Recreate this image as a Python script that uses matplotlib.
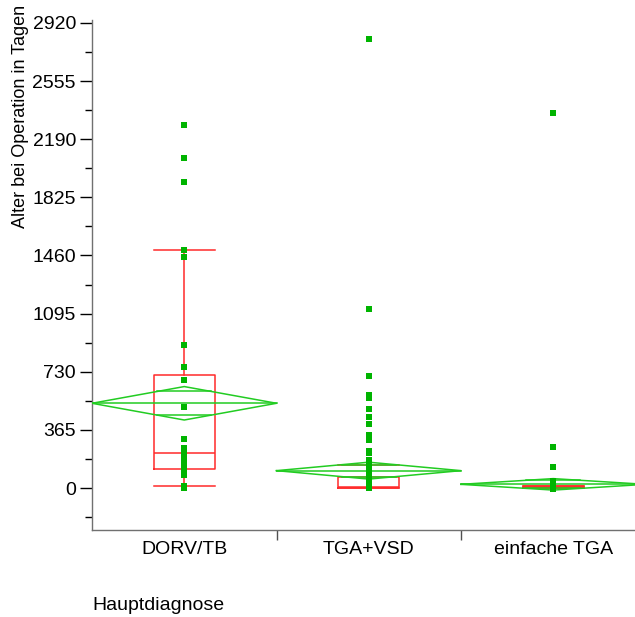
import numpy as np
import matplotlib
matplotlib.use("Agg")
import matplotlib.pyplot as plt
from matplotlib.ticker import FixedLocator

# ---- data ----
categories = ["DORV/TB", "TGA+VSD", "einfache TGA"]

dorv_tb = [2278, 2073, 1922, 1495, 1449, 896, 758, 678, 511, 308,
           250, 240, 228, 216, 204, 192, 180, 168, 156, 144, 132, 120, 110,
           100, 90, 80, 12, 0]
tga_vsd = [2820, 1124, 702, 587, 567, 496, 444, 400, 330, 315, 300, 230, 220,
           178, 165, 150, 144, 135, 125, 115, 105, 95, 85, 75, 65, 55, 45, 35,
           25, 20, 15, 10, 8, 5, 3, 0, -3]
einfache_tga = [2355, 260, 130, 42, 30, 20, 12, 7, 3, 0, -5]
groups = [dorv_tb, tga_vsd, einfache_tga]

# box plot statistics
q1 = [119, 2, -2]
medians = [218, 5, 5]
q3 = [712, 66, 14]
whisker_low = [12, 0, -2]
whisker_high = [1495, 144, 14]

# mean diamonds: means and 95% CI half widths
means = [532, 109, 23]
ci_half = [105, 53, 36]

y_ticks = [0, 365, 730, 1095, 1460, 1825, 2190, 2555, 2920]

# ---- figure ----
plt.rcParams["font.family"] = ["Liberation Sans", "DejaVu Sans"]
fig = plt.figure(figsize=(6.35, 6.17), dpi=100)
ax = fig.add_axes([92/635, 87/617, 553.5/635, 510/617])

red = "#ff2a2a"
green_line = "#22cc22"
green_pt = "#00b400"

stats = []
for i in range(len(categories)):
    stats.append(dict(med=medians[i], q1=q1[i], q3=q3[i],
                      whislo=whisker_low[i], whishi=whisker_high[i], label=categories[i]))
ax.bxp(stats, positions=range(len(categories)), widths=0.33, capwidths=0.33,
       showfliers=False,
       boxprops=dict(color=red, linewidth=1.1),
       medianprops=dict(color=red, linewidth=1.1),
       whiskerprops=dict(color=red, linewidth=1.1),
       capprops=dict(color=red, linewidth=1.1),
       zorder=2)

k = np.sqrt(2) / 2
for i, (m, h) in enumerate(zip(means, ci_half)):
    xs = [i - 0.5, i, i + 0.5, i, i - 0.5]
    ys = [m, m + h, m, m - h, m]
    ax.plot(xs, ys, color=green_line, lw=1.1, zorder=3)
    ax.plot([i - 0.5, i + 0.5], [m, m], color=green_line, lw=1.1, zorder=3)
    hw = 0.5 * (1 - k)
    for s in (1, -1):
        ax.plot([i - hw, i + hw], [m + s * k * h, m + s * k * h],
                color=green_line, lw=1.1, zorder=3)

for i, vals in enumerate(groups):
    ax.scatter(np.full(len(vals), i), vals, marker="s", s=22, color=green_pt,
               linewidths=0, zorder=5)

ax.set_xlim(-0.5, 2.5)
ax.set_ylim(-263.7, 2938.8)

ax.spines["top"].set_visible(False)
ax.spines["right"].set_visible(False)
for sp in ("left", "bottom"):
    ax.spines[sp].set_color("#707070")
    ax.spines[sp].set_linewidth(1.0)

ax.yaxis.set_major_locator(FixedLocator(y_ticks))
ax.set_yticklabels([str(t) for t in y_ticks])
ax.yaxis.set_minor_locator(FixedLocator([t - 182.5 for t in y_ticks]))
ax.tick_params(axis="y", which="major", length=8.6, width=1.0, color="black",
               labelsize=14, pad=3)
ax.tick_params(axis="y", which="minor", length=5, width=1.0, color="black")

ax.set_xticks(range(len(categories)))
ax.set_xticklabels(categories)
ax.xaxis.set_minor_locator(FixedLocator([0.5, 1.5]))
ax.tick_params(axis="x", which="major", length=0, labelsize=14, pad=8)
ax.tick_params(axis="x", which="minor", length=7.2, width=1.0, color="#505050")

fig.text(21/635, 1 - 5/617, "Alter bei Operation in Tagen", rotation=90,
         ha="center", va="top", fontsize=13)
fig.text(92/635, 1 - 605/617, "Hauptdiagnose", ha="left", va="center",
         fontsize=14)

fig.savefig("out.png", dpi=100)
